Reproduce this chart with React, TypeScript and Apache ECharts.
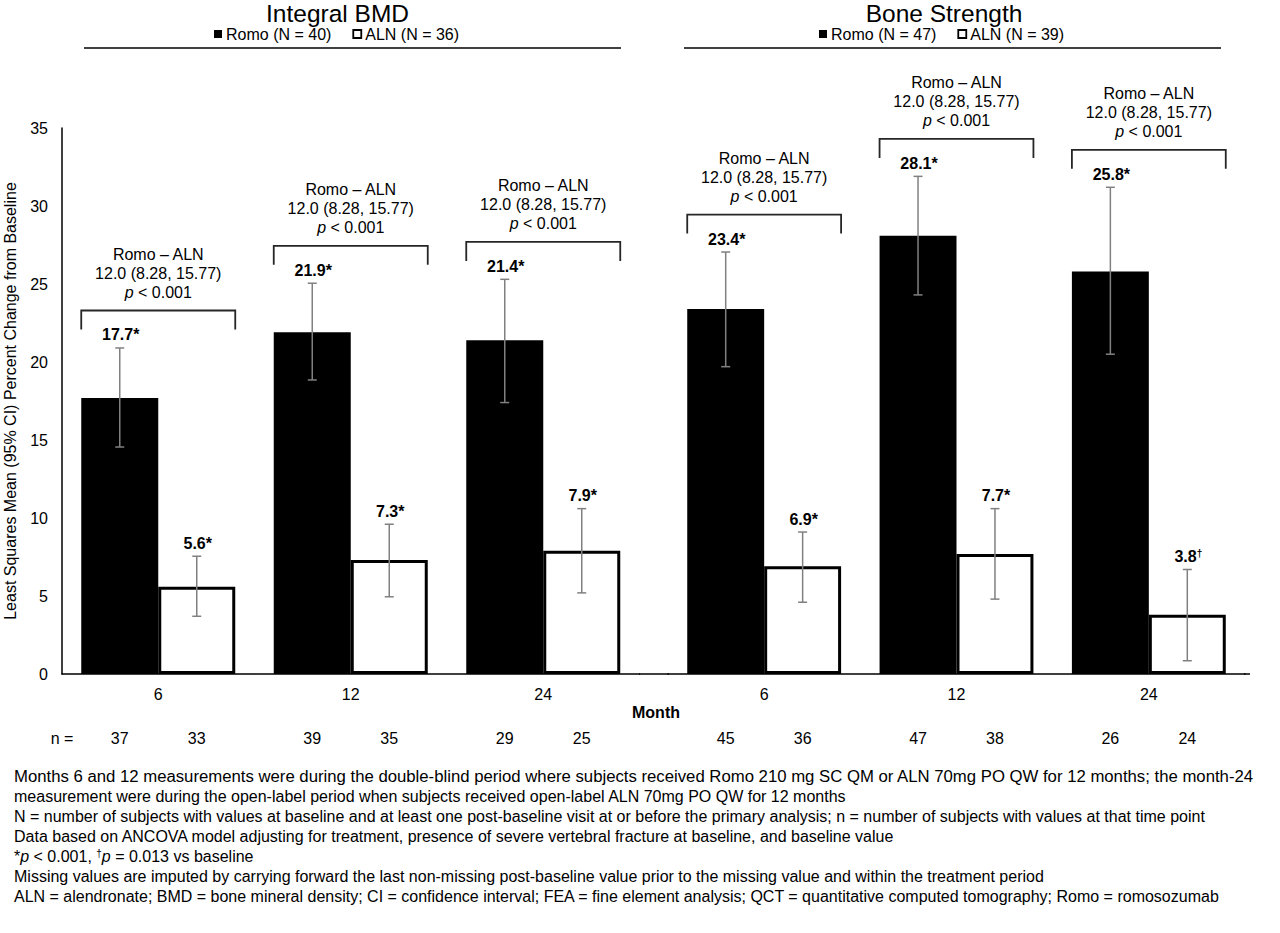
import React, { useEffect, useRef } from "react";
import * as echarts from "echarts";

const months = ["6", "12", "24"];

// Integral BMD
const romoBMD = [17.7, 21.9, 21.4];
const romoBMDLo = [14.55, 18.85, 17.4];
const romoBMDHi = [20.9, 25.05, 25.3];
const alnBMD = [5.6, 7.3, 7.9];
const alnBMDLo = [3.7, 4.95, 5.2];
const alnBMDHi = [7.55, 9.6, 10.6];
const nRomoBMD = [37, 39, 29];
const nAlnBMD = [33, 35, 25];
const markRomoBMD = ["*", "*", "*"];
const markAlnBMD = ["*", "*", "*"];

// Bone Strength
const romoStr = [23.4, 28.1, 25.8];
const romoStrLo = [19.7, 24.3, 20.5];
const romoStrHi = [27.05, 31.9, 31.2];
const alnStr = [6.9, 7.7, 3.8];
const alnStrLo = [4.6, 4.8, 0.85];
const alnStrHi = [9.1, 10.6, 6.7];
const nRomoStr = [45, 47, 26];
const nAlnStr = [36, 38, 24];
const markRomoStr = ["*", "*", "*"];
const markAlnStr = ["*", "*", "†"];

const diffLabel = "Romo – ALN";
const diffEstimate = "12.0 (8.28, 15.77)";
const diffP = "< 0.001";

const yTicks = { min: 0, max: 35, interval: 5 };

const footnotes = [
  "Months 6 and 12 measurements were during the double-blind period where subjects received Romo 210 mg SC QM or ALN 70mg PO QW for 12 months; the month-24",
  "measurement were during the open-label period when subjects received open-label ALN 70mg PO QW for 12 months",
  "N = number of subjects with values at baseline and at least one post-baseline visit at or before the primary analysis; n = number of subjects with values at that time point",
  "Data based on ANCOVA model adjusting for treatment, presence of severe vertebral fracture at baseline, and baseline value",
  "*{i|p} < 0.001, {s|†}{i|p} = 0.013 vs baseline",
  "Missing values are imputed by carrying forward the last non-missing post-baseline value prior to the missing value and within the treatment period",
  "ALN = alendronate; BMD = bone mineral density; CI = confidence interval; FEA = fine element analysis; QCT = quantitative computed tomography; Romo = romosozumab",
];

const FONT = "'Liberation Sans', Arial, 'Noto Sans', sans-serif";

function measure(text: string, size: number) {
  try {
    const ctx = document.createElement("canvas").getContext("2d")!;
    ctx.font = `${size}px ${FONT}`;
    return ctx.measureText(text).width;
  } catch (e) {
    return 0;
  }
}

function txt(x: number, y: number, text: string, opts: any = {}) {
  const fontSize = opts.fontSize || 16;
  const fontWeight = opts.fontWeight || "normal";
  const rich = {
    i: { fontStyle: "italic", fontSize, fontFamily: FONT, fill: "#000", fontWeight },
    v: { fontSize, fontFamily: FONT, fill: "#000", fontWeight },
    s: { fontSize: Math.round(fontSize * 0.65), fontFamily: FONT, fill: "#000", verticalAlign: "top", fontWeight },
  };
  return {
    type: "text",
    x,
    y,
    z: 10,
    scaleX: opts.scaleX || 1,
    style: {
      text,
      fill: opts.fill || "#000",
      fontSize,
      fontFamily: FONT,
      fontWeight,
      align: opts.align || "center",
      verticalAlign: "middle",
      textAlign: opts.align || "center",
      textVerticalAlign: "middle",
      rich,
    },
  };
}

function makeAnno(
  romo: number[], romoLo: number[], romoHi: number[],
  aln: number[], alnLo: number[], alnHi: number[],
  nR: number[], nA: number[], mR: string[], mA: string[]
) {
  return (params: any, api: any) => {
    const i = params.dataIndex;
    const c0 = api.coord([i, 0]);
    const cw = api.size([1, 0])[0];
    const bw = cw * 0.4;
    const xr = c0[0] - bw / 2;
    const xa = c0[0] + bw / 2;
    const children: any[] = [];
    const eb = (x: number, lo: number, hi: number) => {
      const pl = api.coord([i, lo])[1];
      const ph = api.coord([i, hi])[1];
      const st = { stroke: "#808080", lineWidth: 1.5 };
      children.push({ type: "line", shape: { x1: x, y1: ph, x2: x, y2: pl }, style: st });
      children.push({ type: "line", shape: { x1: x - 4.5, y1: ph, x2: x + 4.5, y2: ph }, style: st });
      children.push({ type: "line", shape: { x1: x - 4.5, y1: pl, x2: x + 4.5, y2: pl }, style: st });
      return ph;
    };
    const phR = eb(xr, romoLo[i], romoHi[i]);
    const phA = eb(xa, alnLo[i], alnHi[i]);
    const valText = (v: number, m: string) =>
      m === "†" ? `{v|${v.toFixed(1)}}{s|†}` : `{v|${v.toFixed(1)}${m}}`;
    children.push(txt(xr + 1, phR - 13, valText(romo[i], mR[i]), { fontWeight: "bold" }));
    children.push(txt(xa + 1, phA - 13, valText(aln[i], mA[i]), { fontWeight: "bold" }));
    // bracket
    const py = api.coord([i, romoHi[i] + 2.4])[1];
    children.push({
      type: "polyline",
      shape: {
        points: [
          [c0[0] - bw, py + 19],
          [c0[0] - bw, py],
          [c0[0] + bw, py],
          [c0[0] + bw, py + 19],
        ],
      },
      style: { stroke: "#262626", lineWidth: 1.8, fill: null },
    });
    children.push(txt(c0[0], py - 18, `{i|p} ${diffP}`, { fontSize: 16 }));
    children.push(txt(c0[0], py - 37.5, diffEstimate, { fontSize: 16 }));
    children.push(txt(c0[0], py - 56.5, diffLabel, { fontSize: 16 }));
    // n counts
    children.push(txt(xr, c0[1] + 64, String(nR[i]), { fontSize: 16 }));
    children.push(txt(xa, c0[1] + 64, String(nA[i]), { fontSize: 16 }));
    return { type: "group", children };
  };
}

export default function App() {
  const ref = useRef<HTMLDivElement>(null);
  useEffect(() => {
    document.body.style.margin = "0";
    const chart = echarts.init(ref.current!, null, { renderer: "svg" });
    const xAxisBase = {
      type: "category",
      data: months,
      axisLine: { lineStyle: { color: "#000", width: 1.5 } },
      axisTick: { show: false },
      axisLabel: { color: "#000", fontSize: 16, fontFamily: FONT, margin: 12 },
    };
    const yAxisBase = {
      type: "value",
      ...yTicks,
      splitLine: { show: false },
      axisTick: { show: false },
    };
    const legendBase = {
      icon: "rect",
      itemWidth: 8,
      itemHeight: 8,
      itemGap: 21,
      top: 26,
      padding: 0,
      textStyle: { color: "#000", fontSize: 16, fontFamily: FONT, padding: [0, 0, 0, -1] },
      selectedMode: false,
    };
    const romoStyle = { color: "#000" };
    const alnStyle = { color: "#fff", borderColor: "#000", borderWidth: 3 };
    // first footnote line is justified to the full text width in the reference
    const w0 = measure(footnotes[0], 16);
    const justifyScale = w0 > 0 ? 1241 / w0 : 1;
    const option: any = {
      animation: false,
      backgroundColor: "#fff",
      textStyle: { fontFamily: FONT },
      grid: [
        { left: 62, top: 128, width: 577.5, height: 546, containLabel: false, outerBoundsMode: "none" },
        { left: 668, top: 128, width: 577, height: 546, containLabel: false, outerBoundsMode: "none" },
      ],
      xAxis: [
        { ...xAxisBase, gridIndex: 0 },
        { ...xAxisBase, gridIndex: 1 },
      ],
      yAxis: [
        {
          ...yAxisBase,
          gridIndex: 0,
          axisLine: { show: true, lineStyle: { color: "#000", width: 1.5 } },
          axisLabel: { color: "#000", fontSize: 16, fontFamily: FONT, margin: 14 },
          name: "Least Squares Mean (95% CI) Percent Change from Baseline",
          nameLocation: "middle",
          nameRotate: 90,
          nameGap: 44,
          nameTextStyle: { color: "#000", fontSize: 16, fontFamily: FONT },
        },
        {
          ...yAxisBase,
          gridIndex: 1,
          axisLine: { show: false },
          axisLabel: { show: false },
        },
      ],
      legend: [
        {
          ...legendBase,
          left: 214,
          data: [
            { name: "Romo (N = 40)", itemStyle: { color: "#000", borderWidth: 0 } },
            { name: "ALN (N = 36)", itemStyle: { color: "#fff", borderColor: "#000", borderWidth: 1.8 } },
          ],
        },
        {
          ...legendBase,
          left: 819,
          data: [
            { name: "Romo (N = 47)", itemStyle: { color: "#000", borderWidth: 0 } },
            { name: "ALN (N = 39)", itemStyle: { color: "#fff", borderColor: "#000", borderWidth: 1.8 } },
          ],
        },
      ],
      series: [
        {
          name: "Romo (N = 40)", type: "bar", xAxisIndex: 0, yAxisIndex: 0,
          data: romoBMD, barWidth: "40%", barGap: "0%", itemStyle: romoStyle,
        },
        {
          name: "ALN (N = 36)", type: "bar", xAxisIndex: 0, yAxisIndex: 0,
          data: alnBMD, barWidth: "40%", barGap: "0%", itemStyle: alnStyle,
        },
        {
          name: "Romo (N = 47)", type: "bar", xAxisIndex: 1, yAxisIndex: 1,
          data: romoStr, barWidth: "40%", barGap: "0%", itemStyle: romoStyle,
        },
        {
          name: "ALN (N = 39)", type: "bar", xAxisIndex: 1, yAxisIndex: 1,
          data: alnStr, barWidth: "40%", barGap: "0%", itemStyle: alnStyle,
        },
        {
          type: "custom", xAxisIndex: 0, yAxisIndex: 0, z: 5, clip: false,
          data: months.map((_, i) => [i]),
          renderItem: makeAnno(romoBMD, romoBMDLo, romoBMDHi, alnBMD, alnBMDLo, alnBMDHi,
            nRomoBMD, nAlnBMD, markRomoBMD, markAlnBMD),
        },
        {
          type: "custom", xAxisIndex: 1, yAxisIndex: 1, z: 5, clip: false,
          data: months.map((_, i) => [i]),
          renderItem: makeAnno(romoStr, romoStrLo, romoStrHi, alnStr, alnStrLo, alnStrHi,
            nRomoStr, nAlnStr, markRomoStr, markAlnStr),
        },
      ],
      graphic: [
        txt(337.5, 13.5, "Integral BMD", { fontSize: 24.5 }),
        txt(944, 13.5, "Bone Strength", { fontSize: 24.5 }),
        { type: "line", shape: { x1: 84, y1: 48, x2: 621, y2: 48 }, style: { stroke: "#000", lineWidth: 1.5 } },
        { type: "line", shape: { x1: 684, y1: 48, x2: 1221, y2: 48 }, style: { stroke: "#000", lineWidth: 1.5 } },
        { type: "line", shape: { x1: 639, y1: 674, x2: 669, y2: 674 }, style: { stroke: "#000", lineWidth: 1.5 } },
        { type: "line", shape: { x1: 1244, y1: 674, x2: 1250, y2: 674 }, style: { stroke: "#000", lineWidth: 1.5 } },
        txt(656, 712, "Month", { fontWeight: "bold" }),
        txt(62, 738, "n =", {}),
        ...footnotes.map((f, k) =>
          txt(14, 776 + k * 20.1, f, { align: "left", fontSize: 16, scaleX: k === 0 ? justifyScale : 1 })
        ),
      ],
    };
    chart.setOption(option);
    return () => chart.dispose();
  }, []);
  return <div ref={ref} style={{ width: 1280, height: 933 }} />;
}
